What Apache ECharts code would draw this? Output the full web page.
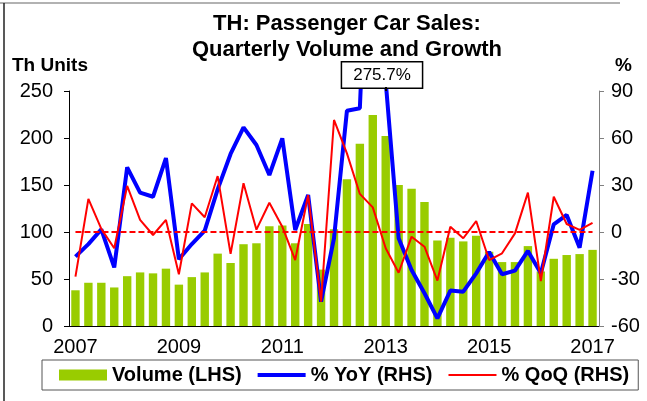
<!DOCTYPE html>
<html>
<head>
<meta charset="utf-8">
<script src="https://cdn.jsdelivr.net/npm/echarts@6/dist/echarts.min.js"></script>
<style>
  html, body { margin: 0; padding: 0; background: #fff; }
  #chart { width: 647px; height: 401px; }
</style>
</head>
<body>
<div id="chart"></div>
<script>
// quarters 2007Q1 .. 2017Q1
const categories = [
  '2007 Q1', '2007 Q2', '2007 Q3', '2007 Q4',
  '2008 Q1', '2008 Q2', '2008 Q3', '2008 Q4',
  '2009 Q1', '2009 Q2', '2009 Q3', '2009 Q4',
  '2010 Q1', '2010 Q2', '2010 Q3', '2010 Q4',
  '2011 Q1', '2011 Q2', '2011 Q3', '2011 Q4',
  '2012 Q1', '2012 Q2', '2012 Q3', '2012 Q4',
  '2013 Q1', '2013 Q2', '2013 Q3', '2013 Q4',
  '2014 Q1', '2014 Q2', '2014 Q3', '2014 Q4',
  '2015 Q1', '2015 Q2', '2015 Q3', '2015 Q4',
  '2016 Q1', '2016 Q2', '2016 Q3', '2016 Q4',
  '2017 Q1'
]

// volume, thousand units (LHS)
const volume = [
  38, 46, 46, 41,
  53, 57, 56, 61,
  44, 52, 57, 77,
  67, 87, 88, 106,
  107, 88, 108.5, 60,
  103, 156, 194, 224.5,
  202, 150, 146, 132,
  91, 94, 90, 96,
  79, 68, 68, 85,
  58, 71.5, 75.5, 76.5,
  81
]

// % YoY (RHS)
const yoy = [
  -15.7, -7.7, 1.7, -22.6,
  41.3, 25.1, 22.5, 47.2,
  -17.4, -7.7, 0.9, 27.2,
  49.8, 66.8, 55.5, 36.4,
  59.8, 1.3, 23.6, -44.5,
  -4, 77.4, 79, 275.7,
  96, -4, -24.3, -39.1,
  -55.1, -37.4, -38.1, -26.4,
  -12.8, -27, -24.7, -12.1,
  -26.4, 4.9, 10.9, -10,
  39.1
]

// % QoQ (RHS)
const qoq = [
  -28.5, 21.1, 2, -10.4,
  29.4, 7.7, -1.9, 7.7,
  -27, 18.3, 9.4, 35.7,
  -14, 31.1, 1.5, 18.7,
  3.4, -17.9, 23.6, -44.5,
  71.5, 50.2, 24.3, 15.7,
  -10.4, -26, -3, -9.4,
  -31, 3.4, -4, 7,
  -17.9, -13.6, -0.9, 25.1,
  -31.3, 22.5, 5.1, 1.3,
  5.9
]

const FONT = 'Liberation Sans, Arial, sans-serif'
const peakIdx = 23 // 2012 Q4, off the scale

const chart = echarts.init(document.getElementById('chart'))

chart.setOption({
  animation: false,
  backgroundColor: '#fff',
  title: [
    {
      text: 'TH: Passenger Car Sales:\nQuarterly Volume and Growth',
      left: 342,
      textAlign: 'center',
      top: 6,
      textStyle: { fontFamily: FONT, fontSize: 22, fontWeight: 'bold', color: '#000', lineHeight: 26 }
    },
    {
      text: 'Th Units',
      left: 7,
      top: 51,
      textStyle: { fontFamily: FONT, fontSize: 19, fontWeight: 'bold', color: '#000' }
    },
    {
      text: '%',
      left: 610,
      top: 51,
      textStyle: { fontFamily: FONT, fontSize: 19, fontWeight: 'bold', color: '#000' }
    }
  ],
  legend: {
    left: 42,
    top: 360,
    padding: [5, 9, 5, 17],
    itemGap: 16,
    itemWidth: 48,
    itemHeight: 11,
    borderColor: '#555',
    borderWidth: 1,
    textStyle: { fontFamily: FONT, fontSize: 20, fontWeight: 'bold', color: '#000' },
    data: [
      { name: 'Volume (LHS)', icon: 'rect' },
      { name: '% YoY (RHS)', icon: 'path://M0,0H48V4H0Z' },
      { name: '% QoQ (RHS)', icon: 'path://M0,0H48V2H0Z' }
    ]
  },
  grid: { left: 69, right: 48, top: 91, bottom: 75 },
  xAxis: {
    type: 'category',
    data: categories,
    boundaryGap: true,
    axisLine: { lineStyle: { color: '#000', width: 1 } },
    axisTick: { interval: 3, length: 5, lineStyle: { color: '#000' } },
    axisLabel: {
      interval: 7,
      margin: 11,
      fontFamily: FONT,
      fontSize: 20,
      color: '#000',
      formatter: v => v.slice(0, 4)
    }
  },
  yAxis: [
    {
      type: 'value',
      min: 0,
      max: 250,
      interval: 50,
      splitLine: { show: false },
      axisLine: { show: true, lineStyle: { color: '#000' } },
      axisTick: { show: true, length: 5, lineStyle: { color: '#000' } },
      axisLabel: { margin: 16, fontFamily: FONT, fontSize: 20, color: '#000' }
    },
    {
      type: 'value',
      min: -60,
      max: 90,
      interval: 30,
      splitLine: { show: false },
      axisLine: { show: true, lineStyle: { color: '#808080' } },
      axisTick: { show: true, length: 5, lineStyle: { color: '#808080' } },
      axisLabel: { margin: 12, fontFamily: FONT, fontSize: 20, color: '#000' }
    }
  ],
  series: [
    {
      name: 'Volume (LHS)',
      type: 'bar',
      data: volume,
      barCategoryGap: '35%',
      itemStyle: { color: '#99CC00' },
      z: 1
    },
    {
      name: '% YoY (RHS)',
      type: 'line',
      yAxisIndex: 1,
      data: yoy,
      symbol: 'none',
      clip: true,
      lineStyle: { color: '#0000FF', width: 4 },
      itemStyle: { color: '#0000FF' },
      z: 3
    },
    {
      name: '% QoQ (RHS)',
      type: 'line',
      yAxisIndex: 1,
      data: qoq,
      symbol: 'none',
      clip: true,
      lineStyle: { color: '#FF0000', width: 2 },
      itemStyle: { color: '#FF0000' },
      z: 4,
      markLine: {
        silent: true,
        symbol: 'none',
        label: { show: false },
        lineStyle: { color: '#FF0000', width: 2, type: [6, 3] },
        data: [[
          { coord: [categories[0], 0] },
          { coord: [categories[categories.length - 1], 0] }
        ]]
      }
    }
  ],
  graphic: [
    // frame edges
    { type: 'line', shape: { x1: 0, y1: 3, x2: 620, y2: 3 }, style: { stroke: '#999', lineWidth: 1.5 } },
    { type: 'line', shape: { x1: 4, y1: 3, x2: 4, y2: 401 }, style: { stroke: '#222', lineWidth: 1.5 } },
    // call-out for the off-scale YoY peak
    {
      type: 'text',
      x: 382,
      y: 75,
      z: 10,
      style: {
        text: yoy[peakIdx].toFixed(1) + '%',
        fontFamily: FONT,
        fontSize: 17,
        fill: '#000',
        align: 'center',
        verticalAlign: 'middle',
        backgroundColor: '#fff',
        borderColor: '#000',
        borderWidth: 1.5,
        padding: [4, 11]
      }
    },
    { type: 'line', z: 10, shape: { x1: 386, y1: 87, x2: 386, y2: 91 }, style: { stroke: '#000', lineWidth: 2 } }
  ]
})
</script>
</body>
</html>
